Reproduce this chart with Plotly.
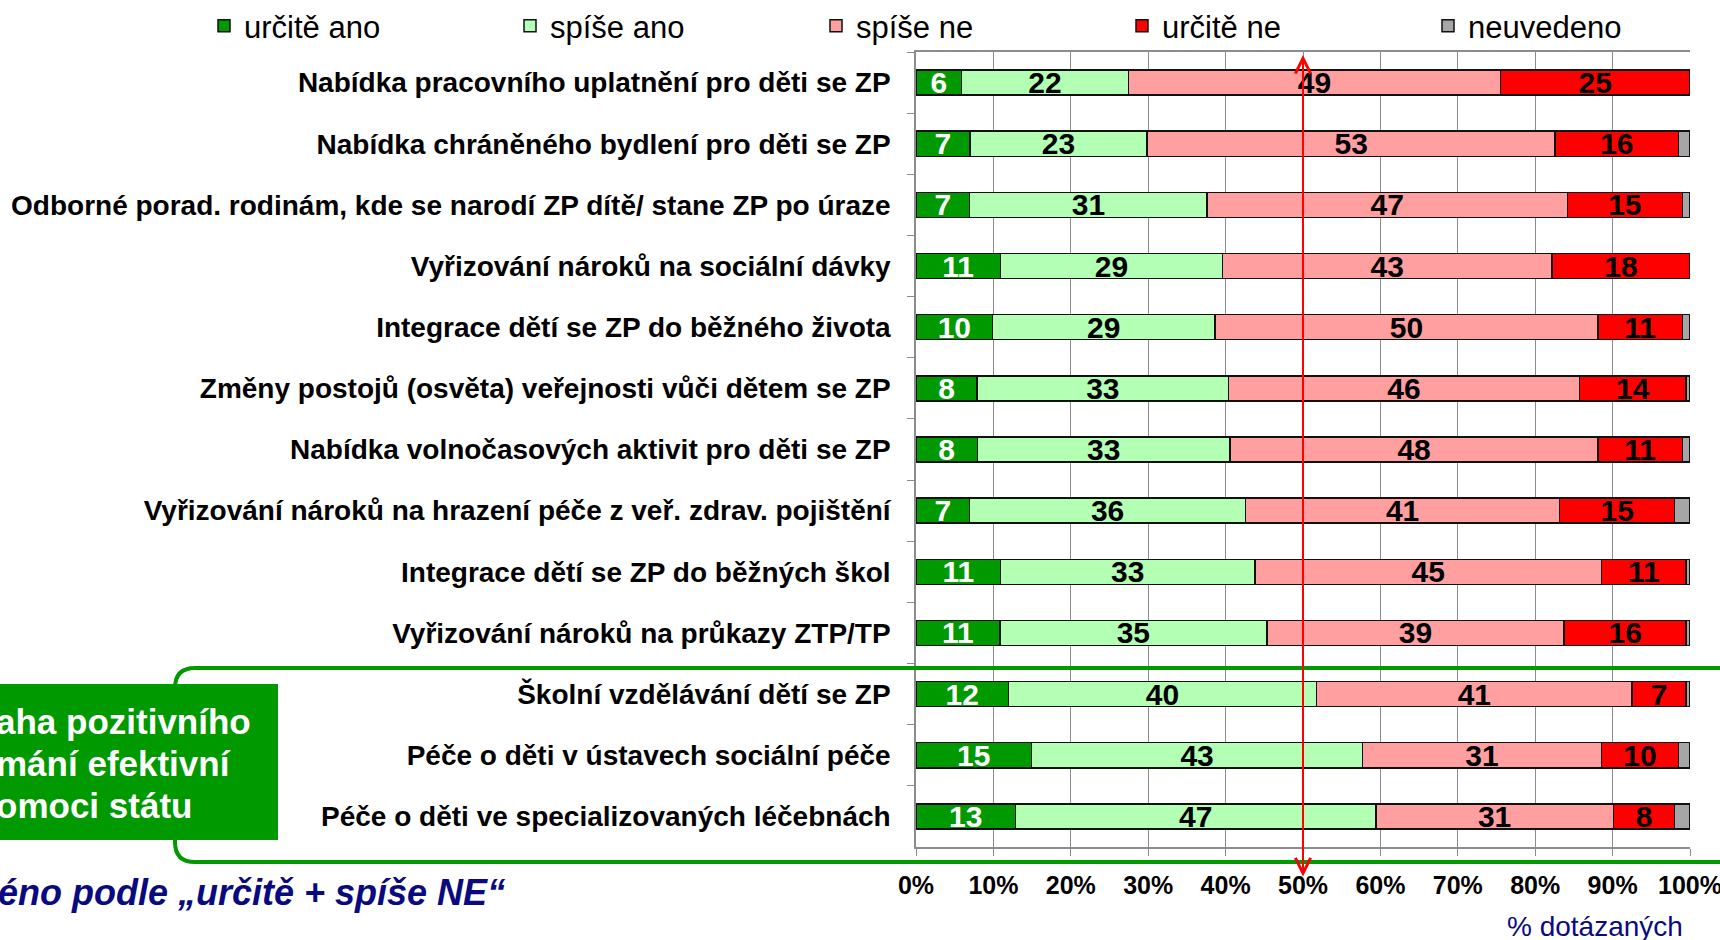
import plotly.graph_objects as go

categories = [
    "Nabídka pracovního uplatnění pro děti se ZP",
    "Nabídka chráněného bydlení pro děti se ZP",
    "Odborné porad. rodinám, kde se narodí ZP dítě/ stane ZP po úraze",
    "Vyřizování nároků na sociální dávky",
    "Integrace dětí se ZP do běžného života",
    "Změny postojů (osvěta) veřejnosti vůči dětem se ZP",
    "Nabídka volnočasových aktivit pro děti se ZP",
    "Vyřizování nároků na hrazení péče z veř. zdrav. pojištění",
    "Integrace dětí se ZP do běžných škol",
    "Vyřizování nároků na průkazy ZTP/TP",
    "Školní vzdělávání dětí se ZP",
    "Péče o děti v ústavech sociální péče",
    "Péče o děti ve specializovaných léčebnách",
]

urcite_ano = [6, 7, 7, 11, 10, 8, 8, 7, 11, 11, 12, 15, 13]
spise_ano = [22, 23, 31, 29, 29, 33, 33, 36, 33, 35, 40, 43, 47]
spise_ne = [49, 53, 47, 43, 50, 46, 48, 41, 45, 39, 41, 31, 31]
urcite_ne = [25, 16, 15, 18, 11, 14, 11, 15, 11, 16, 7, 10, 8]
neuvedeno = [0, 1.5, 1, 0, 1, 0.5, 1, 2, 0.5, 0.5, 0.5, 1.5, 2]

series_names = ["určitě ano", "spíše ano", "spíše ne", "určitě ne", "neuvedeno"]
series_values = [urcite_ano, spise_ano, spise_ne, urcite_ne, neuvedeno]
series_colors = ["#009900", "#B3FFB3", "#FF9F9F", "#FF0000", "#A6A6A6"]
text_colors = ["white", "black", "black", "black", "black"]
show_text = [True, True, True, True, False]

x_ticks = [0, 10, 20, 30, 40, 50, 60, 70, 80, 90, 100]
x_tick_labels = [f"{v}%" for v in x_ticks]

FONT = "Liberation Sans, Arial, sans-serif"
W, H = 1720, 940
ML, MR, MT, MB = 916, 30, 52, 93
PW, PH = W - ML - MR, H - MT - MB


def xp(px):
    return (px - ML) / PW


def yp(py):
    return (H - MB - py) / PH


fig = go.Figure()
for name, vals, col, tcol, st in zip(series_names, series_values, series_colors, text_colors, show_text):
    fig.add_trace(go.Bar(
        name=name,
        y=categories,
        x=vals,
        orientation="h",
        marker=dict(color=col, line=dict(color="#111111", width=1.5)),
        text=[str(v) for v in vals] if st else None,
        textposition="inside" if st else "none",
        insidetextanchor="middle",
        textangle=0,
        textfont=dict(family=FONT, size=30, color=tcol, weight="bold"),
        hoverinfo="skip",
    ))

navy = "#0A0A80"
green = "#009900"

# rounded green frame
r = 20
L, R, T, B = 175, 1745, 668, 862
path = (
    f"M {xp(L + r)} {yp(T)} L {xp(R)} {yp(T)} L {xp(R)} {yp(B)} L {xp(L + r)} {yp(B)} "
    f"Q {xp(L)} {yp(B)} {xp(L)} {yp(B - r)} L {xp(L)} {yp(T + r)} "
    f"Q {xp(L)} {yp(T)} {xp(L + r)} {yp(T)} Z"
)
shapes = [
    dict(type="path", xref="paper", yref="paper", path=path,
         line=dict(color=green, width=4), layer="above"),
    dict(type="rect", xref="paper", yref="paper", x0=xp(-5), x1=xp(278),
         y0=yp(840), y1=yp(684), fillcolor=green, line=dict(width=0), layer="above"),
]

annotations = [
    dict(x=50, xref="x", y=yp(55), yref="paper", ax=0, ay=823, axref="pixel", ayref="pixel",
         text="", showarrow=True, arrowside="end+start", arrowhead=5, startarrowhead=5,
         arrowsize=1.5, startarrowsize=1.5, arrowwidth=2, arrowcolor="#FF0000",
         standoff=0, startstandoff=0),
    dict(x=xp(-6), y=yp(721), xref="paper", yref="paper", xanchor="left", yanchor="middle",
         text="aha pozitivního", showarrow=False,
         font=dict(family=FONT, size=35, color="white", weight="bold")),
    dict(x=xp(-6), y=yp(763), xref="paper", yref="paper", xanchor="left", yanchor="middle",
         text="mání efektivní", showarrow=False,
         font=dict(family=FONT, size=35, color="white", weight="bold")),
    dict(x=xp(-6), y=yp(805), xref="paper", yref="paper", xanchor="left", yanchor="middle",
         text="omoci státu", showarrow=False,
         font=dict(family=FONT, size=35, color="white", weight="bold")),
    dict(x=xp(-4), y=yp(892), xref="paper", yref="paper", xanchor="left", yanchor="middle",
         text="éno podle „určitě + spíše NE“", showarrow=False,
         font=dict(family=FONT, size=36, color=navy, weight="bold", style="italic")),
    dict(x=xp(1685), y=yp(926), xref="paper", yref="paper", xanchor="right", yanchor="middle",
         text="% dotázaných", showarrow=False,
         font=dict(family=FONT, size=28, color=navy)),
]

fig.update_layout(
    width=W, height=H,
    margin=dict(l=ML, r=MR, t=MT, b=MB, pad=0, autoexpand=False),
    barmode="stack",
    barnorm="percent",
    bargap=0.59,
    plot_bgcolor="white",
    paper_bgcolor="white",
    uniformtext=dict(minsize=30, mode="show"),
    font=dict(family=FONT, color="black"),
    showlegend=True,
    legend=dict(
        orientation="h", xref="paper", yref="paper",
        x=xp(204), xanchor="left", y=yp(26), yanchor="middle",
        font=dict(family=FONT, size=31, color="black"),
        entrywidth=261, entrywidthmode="pixels", itemwidth=30,
        bgcolor="rgba(0,0,0,0)", traceorder="normal",
    ),
    xaxis=dict(
        range=[0, 100], tickmode="array", tickvals=x_ticks, ticktext=x_tick_labels,
        showgrid=True, gridcolor="#8C8C8C", gridwidth=1,
        showline=True, linecolor="#8C8C8C", linewidth=1.5, mirror=True,
        ticks="outside", ticklen=7, tickcolor="#8C8C8C",
        tickfont=dict(family=FONT, size=25, color="black", weight="bold"),
        ticklabelstandoff=8, ticklabeloverflow="allow", zeroline=False, fixedrange=True,
    ),
    yaxis=dict(
        autorange="reversed", type="category",
        showgrid=False, showline=True, linecolor="#8C8C8C", linewidth=1.5,
        ticks="outside", ticklen=7, tickcolor="#8C8C8C", tickson="boundaries",
        tickfont=dict(family=FONT, size=28, color="black", weight="bold"),
        ticklabelstandoff=18, fixedrange=True,
    ),
    shapes=shapes,
    annotations=annotations,
)

fig.write_html("out.html", config={"displayModeBar": False},
               post_script="document.body.style.margin='0';document.body.style.overflow='hidden';")
